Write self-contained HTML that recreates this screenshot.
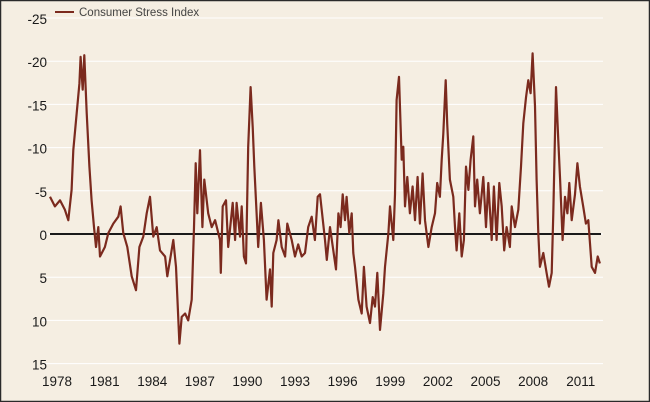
<!DOCTYPE html>
<html><head><meta charset="utf-8"><style>
html,body{margin:0;padding:0;background:#f5eee2;}
svg{display:block;font-family:"Liberation Sans",sans-serif;}
</style></head><body>
<svg width="650" height="402" viewBox="0 0 650 402">
<rect x="0.5" y="0.5" width="649" height="401" fill="#f5eee2" stroke="#2a2a2a" stroke-width="1.5"/>
<g id="grid"></g>
<g id="ylabels"></g>
<g id="xlabels"></g>
<line id="zero" stroke="#1a1a1a" stroke-width="2"/>
<path id="series" fill="none" stroke="#7b2a1e" stroke-width="2.2" stroke-linejoin="round"/>
<g>
<line x1="55" y1="12" x2="74" y2="12" stroke="#7b2a1e" stroke-width="2"/>
<text x="79" y="16" font-size="11.5" fill="#444">Consumer Stress Index</text>
</g>
</svg>
<script>
const yTicks=[-25,-20,-15,-10,-5,0,5,10,15];
const xTickLabels=[1978,1981,1984,1987,1990,1993,1996,1999,2002,2005,2008,2011];
const years=[1977.56,1977.87,1978.19,1978.5,1978.71,1978.92,1979.03,1979.24,1979.41,1979.49,1979.62,1979.72,1979.87,1980.04,1980.18,1980.33,1980.46,1980.6,1980.71,1981.02,1981.23,1981.55,1981.86,1982.01,1982.18,1982.43,1982.71,1982.98,1983.19,1983.44,1983.65,1983.86,1984.07,1984.28,1984.49,1984.81,1984.95,1985.16,1985.33,1985.5,1985.71,1985.86,1986.07,1986.27,1986.49,1986.63,1986.74,1986.84,1987.01,1987.16,1987.28,1987.53,1987.75,1987.96,1988.27,1988.32,1988.44,1988.65,1988.79,1989.07,1989.22,1989.32,1989.53,1989.64,1989.78,1989.91,1990.05,1990.2,1990.33,1990.43,1990.58,1990.68,1990.85,1991.04,1991.21,1991.42,1991.53,1991.63,1991.84,1991.95,1992.16,1992.37,1992.51,1992.79,1993.0,1993.2,1993.42,1993.63,1993.83,1994.05,1994.25,1994.43,1994.57,1994.89,1995.0,1995.2,1995.41,1995.58,1995.73,1995.87,1996.0,1996.15,1996.25,1996.42,1996.57,1996.67,1996.78,1996.99,1997.2,1997.34,1997.51,1997.72,1997.89,1998.04,1998.18,1998.35,1998.56,1998.67,1998.88,1998.98,1999.19,1999.3,1999.4,1999.55,1999.72,1999.82,1999.93,2000.07,2000.24,2000.41,2000.56,2000.72,2000.87,2001.04,2001.19,2001.29,2001.4,2001.61,2001.82,2001.96,2002.13,2002.24,2002.34,2002.49,2002.59,2002.76,2002.97,2003.08,2003.18,2003.35,2003.5,2003.64,2003.77,2003.92,2004.06,2004.23,2004.34,2004.48,2004.65,2004.86,2005.03,2005.18,2005.39,2005.53,2005.7,2005.87,2006.02,2006.18,2006.33,2006.54,2006.65,2006.86,2007.07,2007.24,2007.38,2007.55,2007.7,2007.84,2007.97,2008.12,2008.22,2008.33,2008.43,2008.64,2008.85,2009.0,2009.17,2009.27,2009.44,2009.59,2009.7,2009.86,2010.01,2010.16,2010.28,2010.43,2010.64,2010.79,2010.95,2011.16,2011.33,2011.48,2011.69,2011.9,2012.07,2012.21];
const stressValues=[-4.3,-3.2,-3.9,-2.8,-1.6,-5.1,-9.7,-14.0,-17.4,-20.5,-16.7,-20.7,-14.0,-7.8,-3.9,-0.8,1.5,-0.8,2.6,1.5,-0.1,-1.2,-2.0,-3.2,-0.1,1.5,4.9,6.5,1.5,0.3,-2.4,-4.3,0.3,-0.8,1.9,2.6,4.9,2.6,0.7,3.8,12.7,9.6,9.2,10.0,7.6,-0.8,-8.2,-2.4,-9.7,-0.8,-6.3,-2.4,-0.8,-1.6,0.7,4.5,-3.2,-3.9,1.5,-3.6,0.7,-3.6,0.3,-3.2,2.6,3.4,-10.1,-17.0,-12.4,-7.8,-2.4,1.5,-3.6,0.7,7.6,4.1,8.4,2.2,0.7,-1.6,1.5,2.6,-1.2,0.7,2.6,1.2,2.6,2.2,-0.8,-2.0,0.7,-4.3,-4.6,0.7,3.0,-0.8,1.9,4.1,-2.4,-0.8,-4.6,-1.6,-4.3,-0.1,-2.4,2.2,3.8,7.6,9.2,3.8,8.4,10.3,7.3,8.4,4.5,11.1,6.9,3.8,-0.1,-3.2,0.7,-4.6,-15.5,-18.2,-8.6,-10.1,-3.2,-6.6,-2.4,-5.5,-1.6,-6.6,-1.2,-7.0,-1.6,-0.1,1.5,-0.8,-2.4,-5.9,-4.3,-8.6,-11.6,-17.8,-12.8,-6.3,-4.3,-0.8,1.9,-2.4,2.6,0.7,-7.8,-5.1,-8.6,-11.3,-3.2,-6.3,-2.4,-6.6,-0.8,-5.9,0.7,-5.5,0.7,-5.9,-3.2,1.9,-0.8,1.5,-3.2,-0.8,-2.8,-7.8,-12.8,-15.8,-17.8,-16.3,-20.9,-14.8,-6.3,-0.1,3.8,2.2,4.5,6.1,4.5,-2.4,-17.0,-10.8,-6.3,0.7,-4.3,-2.4,-5.9,-1.6,-4.6,-8.2,-5.5,-3.2,-1.2,-1.6,3.8,4.5,2.6,3.4];

const NS="http://www.w3.org/2000/svg";
const xScale=yr=>57+(yr-1978)*15.87;
const yScale=v=>234+v*8.64;

const grid=document.getElementById('grid');
const yl=document.getElementById('ylabels');
yTicks.forEach(t=>{
  const l=document.createElementNS(NS,'line');
  
  
  l.setAttribute('x1',42);l.setAttribute('x2',603);
  l.setAttribute('y1',yScale(t));l.setAttribute('y2',yScale(t));
  l.setAttribute('stroke','#ffffff');l.setAttribute('stroke-width','1');
  grid.appendChild(l);
  const tx=document.createElementNS(NS,'text');
  
  
  tx.setAttribute('x',47);tx.setAttribute('y',yScale(t)+6);
  tx.setAttribute('text-anchor','end');tx.setAttribute('font-size','13.5');tx.setAttribute('fill','#1a1a1a');
  tx.textContent=String(t);
  yl.appendChild(tx);
});
const xl=document.getElementById('xlabels');
xTickLabels.forEach(y=>{
  const tx=document.createElementNS(NS,'text');
  
  
  tx.setAttribute('x',xScale(y));tx.setAttribute('y',386);
  tx.setAttribute('text-anchor','middle');tx.setAttribute('font-size','13.5');tx.setAttribute('fill','#1a1a1a');
  tx.textContent=String(y);
  xl.appendChild(tx);
});
const z=document.getElementById('zero');
z.setAttribute('x1',50);z.setAttribute('x2',601);z.setAttribute('y1',yScale(0));z.setAttribute('y2',yScale(0));
let d='';
years.forEach((yr,i)=>{d+=(i?'L':'M')+xScale(yr).toFixed(1)+','+yScale(stressValues[i]).toFixed(1);});
document.getElementById('series').setAttribute('d',d);
</script>
</body></html>
